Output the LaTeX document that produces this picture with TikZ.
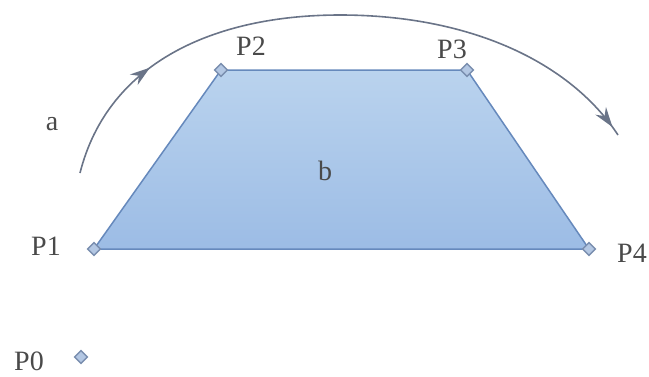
\documentclass[tikz,border=0pt]{standalone}
\usepackage{fontspec}
\setmainfont{Liberation Serif}
\usetikzlibrary{arrows.meta,decorations.markings}
\definecolor{edgeblue}{HTML}{6689BC}
\definecolor{filltop}{HTML}{BAD3EE}
\definecolor{fillbot}{HTML}{9CBCE5}
\definecolor{markfill}{HTML}{B3C7E3}
\definecolor{markline}{HTML}{7A8EAF}
\definecolor{arcgray}{HTML}{6A7488}
\definecolor{txtgray}{HTML}{4A4A4A}
\tikzset{
  vmark/.style={draw=markline,fill=markfill,line width=1.4pt,rectangle,
    minimum size=9pt,inner sep=0pt,rotate=45},
  plabel/.style={text=txtgray,font=\fontsize{28}{28}\selectfont,inner sep=0pt},
  arcflow/.style={draw=arcgray,line width=1.6pt,postaction={decorate},
    decoration={markings,
      mark=at position 0.2 with {\arrow{Stealth[length=20pt,width=13pt]}},
      mark=at position 0.985 with {\arrow{Stealth[length=20pt,width=13pt]}}}}
}
\begin{document}
\begin{tikzpicture}[x=1pt,y=-1pt]
\useasboundingbox (0,0) rectangle (649,376);

\coordinate (c1) at (94,249);
\coordinate (c2) at (221,70);
\coordinate (c3) at (467,70);
\coordinate (c4) at (589,249);

\shade[top color=filltop,bottom color=fillbot,draw=edgeblue,line width=1.5pt,line join=round]
  (c1) -- (c2) -- (c3) -- (c4) -- cycle;

\node[vmark] (m1) at (c1) {};
\node[vmark] (m2) at (c2) {};
\node[vmark] (m3) at (c3) {};
\node[vmark] (m4) at (c4) {};
\node[vmark] (m0) at (81,357) {};

\node[plabel] (p1) at (46,246) {P1};
\node[plabel] (p2) at (251,46) {P2};
\node[plabel] (p3) at (452,49) {P3};
\node[plabel,anchor=east] (p4) at (647,253) {P4};
\node[plabel] (p0) at (29,361) {P0};
\node[plabel] (la) at (52,124) {a};
\node[plabel] (lb) at (325,171) {b};

\coordinate (arcstart) at (80,173);
\coordinate (arcend) at (618,135);
\path[arcflow] (arcstart) .. controls (108,62) and (215,15) .. (340,15)
  .. controls (470,15) and (570,62) .. (arcend);
\end{tikzpicture}
\end{document}
